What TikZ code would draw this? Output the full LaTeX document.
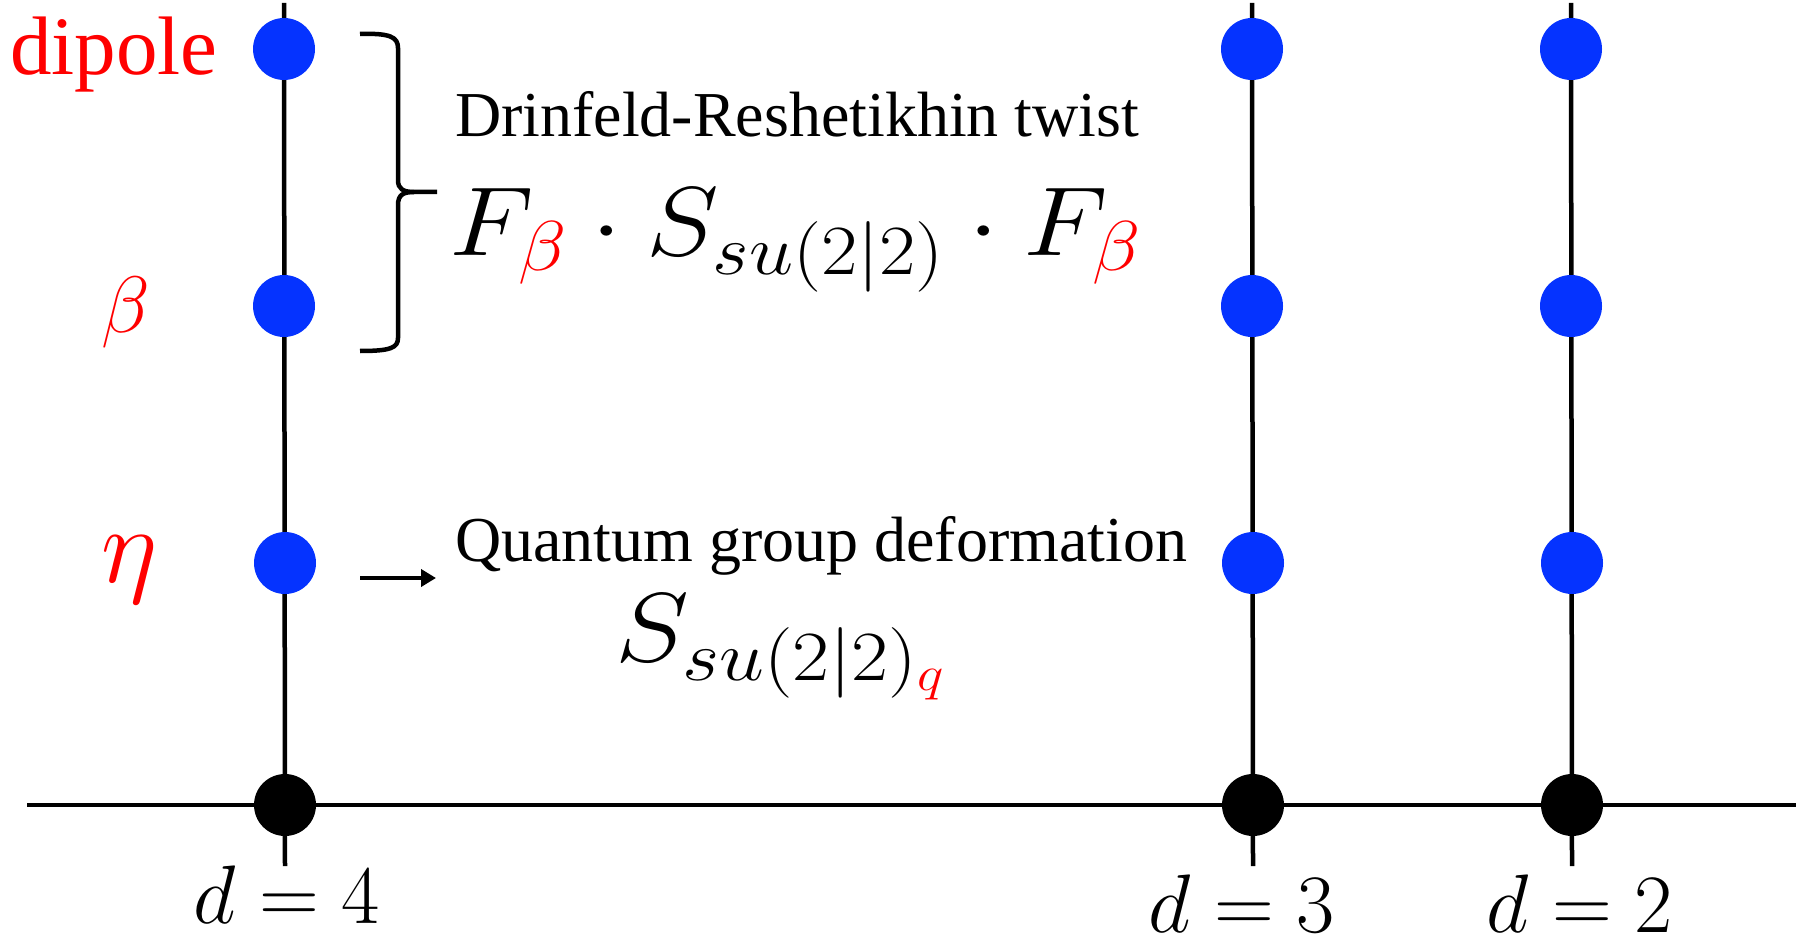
\RequirePackage{fix-cm}
\documentclass[tikz,border=0pt]{standalone}
\usepackage[no-math]{fontspec}
\usepackage{graphicx}
\newfontfamily\tms{Liberation Serif}
\usetikzlibrary{arrows.meta}
\renewcommand\defaultscriptratio{.72}
\renewcommand\defaultscriptscriptratio{.5}
\definecolor{dotblue}{RGB}{5,51,255}
\definecolor{lblred}{RGB}{255,0,0}
\tikzset{
  axisline/.style={line width=4.5pt, black},
  bluedot/.style={circle, fill=dotblue, minimum size=62pt, inner sep=0pt},
  blackdot/.style={circle, fill=black, minimum size=62pt, inner sep=0pt},
  bracepath/.style={line width=4.5pt, black},
  txt/.style={inner sep=0pt, outer sep=0pt},
}
\newcommand{\fsz}[1]{\fontsize{#1}{#1}\selectfont}
\begin{document}
\begin{tikzpicture}[x=1pt,y=-1pt]
\useasboundingbox (0,0) rectangle (1802,944);
% coordinates
\coordinate (axL) at (27,805);
\coordinate (axR) at (1796,805);
\coordinate (t4) at (284,3);   \coordinate (b4) at (285,866);
\coordinate (t3) at (1252,3);  \coordinate (b3) at (1253,866);
\coordinate (t2) at (1571,3);  \coordinate (b2) at (1572,866);
% lines
\draw[axisline] (axL) -- (axR);
\draw[axisline] (t4) -- (b4);
\draw[axisline] (t3) -- (b3);
\draw[axisline] (t2) -- (b2);
% dots
\node[bluedot] (p4a) at (284,49) {};
\node[bluedot] (p4b) at (284,306) {};
\node[bluedot] (p4c) at (285,563) {};
\node[blackdot] (p4d) at (285,805) {};
\node[bluedot] (p3a) at (1252,49) {};
\node[bluedot] (p3b) at (1252,306) {};
\node[bluedot] (p3c) at (1253,563) {};
\node[blackdot] (p3d) at (1253,805) {};
\node[bluedot] (p2a) at (1571,49) {};
\node[bluedot] (p2b) at (1571,306) {};
\node[bluedot] (p2c) at (1572,563) {};
\node[blackdot] (p2d) at (1572,805) {};
% left labels
\node[txt, anchor=base west, text=lblred] (ldip) at (10,75) {\tms\fsz{83}dipole};
\node[txt, anchor=base, text=lblred] (lbeta) at (126,332) {\fsz{80}$\beta$};
\node[txt, anchor=base, text=lblred] (leta) at (130,582) {\fsz{108}$\eta$};
% brace
\draw[bracepath] (360,34) .. controls (390,33) and (398,37) .. (398,48) -- (398,180)
  .. controls (398,189) and (403,192) .. (414,192) -- (437,192);
\draw[bracepath] (414,192) .. controls (403,192) and (398,195) .. (398,205) -- (398,338)
  .. controls (398,348) and (390,351) .. (360,351);
% twist text
\node[txt, anchor=base west] (dr) at (455,137) {\tms\fsz{64}Drinfeld-Reshetikhin twist};
\node[txt, anchor=base west] (fs) at (449,255) {\fsz{98}\scalebox{1.12}[1]{$F_{\color{lblred}\beta}\cdot S_{su(2|2)}\cdot F_{\color{lblred}\beta}$}};
% arrow
\coordinate (arS) at (360,578);
\coordinate (arE) at (436,578);
\draw[line width=4.5pt, -{Triangle[length=15pt,width=17pt]}] (arS) -- (arE);
\node[txt, anchor=base west] (qg) at (455,561) {\tms\fsz{64}Quantum group deformation};
\node[txt, anchor=base west] (sq) at (615,661) {\fsz{98}\scalebox{1.14}[1]{$S_{su(2|2)_{\color{lblred}q}}$}};
% bottom labels
\node[txt, anchor=base] (d4) at (287,923) {\fsz{83}$d=4$};
\node[txt, anchor=base] (d3) at (1242,932) {\fsz{83}$d=3$};
\node[txt, anchor=base] (d2) at (1580,932) {\fsz{83}$d=2$};
\end{tikzpicture}
\end{document}
